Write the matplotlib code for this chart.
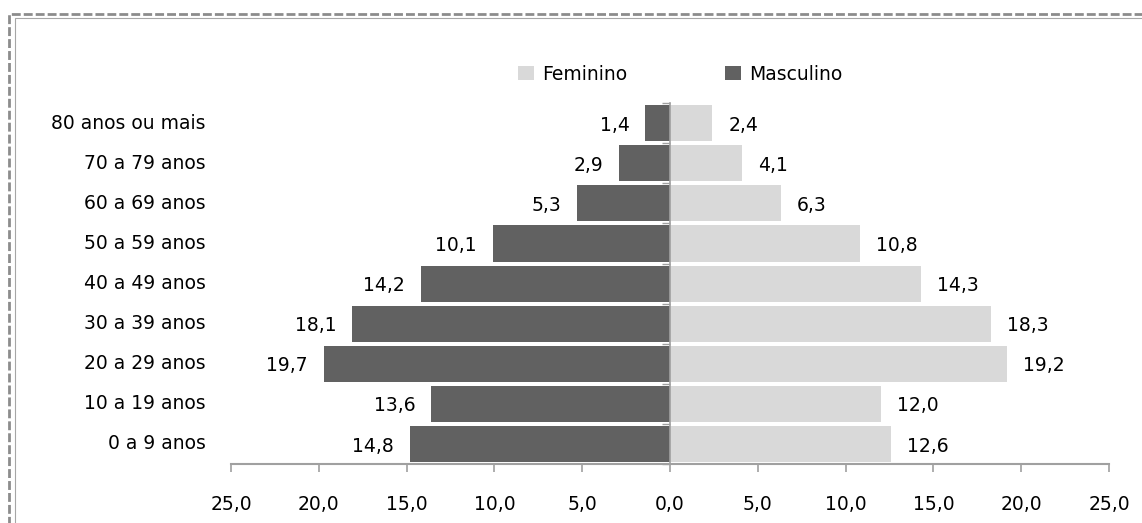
import numpy as np
import matplotlib.pyplot as plt
from matplotlib.patches import Rectangle
from matplotlib.ticker import FuncFormatter, FixedLocator

AGE_GROUPS = [
    "0 a 9 anos",
    "10 a 19 anos",
    "20 a 29 anos",
    "30 a 39 anos",
    "40 a 49 anos",
    "50 a 59 anos",
    "60 a 69 anos",
    "70 a 79 anos",
    "80 anos ou mais",
]
MASCULINO = [14.8, 13.6, 19.7, 18.1, 14.2, 10.1, 5.3, 2.9, 1.4]
FEMININO = [12.6, 12.0, 19.2, 18.3, 14.3, 10.8, 6.3, 4.1, 2.4]
X_TICKS = [-25, -20, -15, -10, -5, 0, 5, 10, 15, 20, 25]

DARK = "#616161"
LIGHT = "#d9d9d9"
AXIS_GRAY = "#a0a0a0"
FONT_SIZE = 13.5


def fmt(v):
    return f"{abs(v):.1f}".replace(".", ",")


def main():
    plt.rcParams["font.family"] = ["DejaVu Sans"]
    plt.rcParams["font.size"] = FONT_SIZE

    fig = plt.figure(figsize=(11.42, 5.23), dpi=100)
    ax = fig.add_axes([0.2023, 0.1128, 0.7688, 0.690])

    y = np.arange(len(AGE_GROUPS))
    masc = -np.array(MASCULINO)
    fem = np.array(FEMININO)

    ax.barh(y, fem, height=0.9, color=LIGHT, label="Feminino", zorder=2)
    ax.barh(y, masc, height=0.9, color=DARK, label="Masculino", zorder=2)

    # data labels
    for yi, v in zip(y, masc):
        ax.annotate(fmt(v), (v, yi), xytext=(-11.5, -1.5), textcoords="offset points",
                    ha="right", va="center", color="black")
    for yi, v in zip(y, fem):
        ax.annotate(fmt(v), (v, yi), xytext=(11.5, -1.5), textcoords="offset points",
                    ha="left", va="center", color="black")

    # category labels at the left of the plot
    for yi, lab in zip(y, AGE_GROUPS):
        ax.text(-0.029, yi, lab, transform=ax.get_yaxis_transform(),
                ha="right", va="center", color="black")

    ax.set_xlim(-25, 25)
    ax.set_ylim(-0.5, len(AGE_GROUPS) - 0.5)
    ax.xaxis.set_major_locator(FixedLocator(X_TICKS))
    ax.xaxis.set_major_formatter(FuncFormatter(lambda v, p: fmt(v)))
    ax.tick_params(axis="x", length=6, width=1.2, color=AXIS_GRAY, pad=16)

    # center axis with small ticks
    ax.spines["left"].set_position(("data", 0))
    ax.spines["left"].set_color(AXIS_GRAY)
    ax.spines["left"].set_linewidth(1.2)
    ax.spines["left"].set_zorder(3)
    ax.set_yticks(y)
    ax.set_yticks(np.arange(-0.5, len(AGE_GROUPS)), minor=True)
    ax.yaxis.set_ticklabels([])
    ax.tick_params(axis="y", which="both", length=6, width=1.0, color=AXIS_GRAY)
    for spine in ["top", "right"]:
        ax.spines[spine].set_visible(False)
    ax.spines["bottom"].set_color(AXIS_GRAY)
    ax.spines["bottom"].set_linewidth(1.5)

    fig.legend(loc="center left", bbox_to_anchor=(518 / 1142, 1 - 74 / 523), ncol=2,
               frameon=False, handlelength=0.85, handleheight=0.85,
               handletextpad=0.45, columnspacing=5.2, borderpad=0,
               borderaxespad=0, fontsize=FONT_SIZE)

    # dashed border around the chart, with a thin inner line
    border = Rectangle((0.0083, -0.05), 1.1, 1.0232, transform=fig.transFigure,
                       fill=False, edgecolor="#8c8c8c", linewidth=2.0,
                       linestyle=(0, (3.2, 1.1)), clip_on=False)
    inner = Rectangle((0.0127, -0.05), 1.1, 1.0165, transform=fig.transFigure,
                      fill=False, edgecolor="#a6a6a6", linewidth=0.8,
                      clip_on=False)
    fig.patches.append(border)
    fig.patches.append(inner)

    fig.savefig("out.png", dpi=100)


if __name__ == "__main__":
    main()
